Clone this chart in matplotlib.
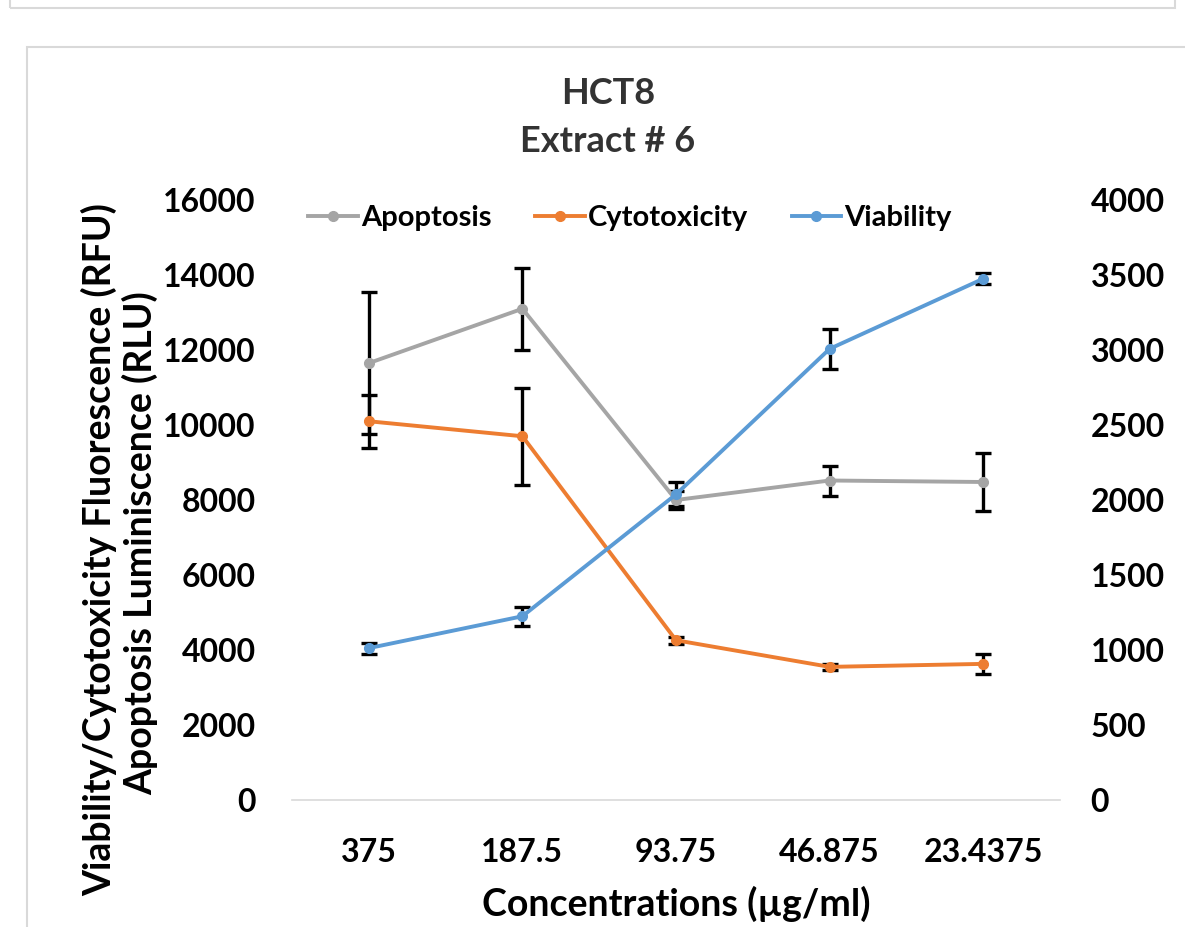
import matplotlib
matplotlib.use("Agg")
import matplotlib.pyplot as plt
from matplotlib.patches import Rectangle

plt.rcParams['font.family'] = ['Lato', 'DejaVu Sans']
plt.rcParams['font.weight'] = 'bold'

# data
concentrations = ['375', '187.5', '93.75', '46.875', '23.4375']
apoptosis = [11650, 13100, 8000, 8520, 8480]
apoptosis_err = [1900, 1100, 250, 400, 770]
cytotoxicity = [10100, 9700, 4260, 3550, 3630]
cytotoxicity_err = [700, 1300, 100, 80, 270]
viability = [4050, 4900, 8150, 12030, 13900]
viability_err = [150, 250, 320, 530, 150]

series = [
    ('Apoptosis', apoptosis, apoptosis_err, '#A5A5A5'),
    ('Cytotoxicity', cytotoxicity, cytotoxicity_err, '#ED7D31'),
    ('Viability', viability, viability_err, '#5B9BD5'),
]

fig = plt.figure(figsize=(11.85, 9.27), dpi=100)

# outer panel frames
fig.patches.append(Rectangle((10 / 1185, 1 - 8 / 927), 1165 / 1185, 0.05,
                             transform=fig.transFigure, fill=False,
                             edgecolor='#D9D9D9', linewidth=1.5))
fig.patches.append(Rectangle((27 / 1185, -0.05), 1.0, 1 - 47 / 927 + 0.05,
                             transform=fig.transFigure, fill=False,
                             edgecolor='#D9D9D9', linewidth=1.5))

ax = fig.add_axes([292 / 1185, 1 - 800 / 927, 768 / 1185, 600 / 927])
x = list(range(len(concentrations)))

for name, vals, errs, color in series:
    ax.errorbar(x, vals, yerr=errs, fmt='none', ecolor='black',
                elinewidth=2.4, capsize=5.5, capthick=2.4, zorder=3)
    ax.plot(x, vals, color=color, linewidth=2.8, marker='o', markersize=7,
            label=name, zorder=4)

ax.set_xlim(-0.5, len(concentrations) - 0.5)
ax.set_ylim(0, 16000)
ax.set_yticks(range(0, 16001, 2000))
ax.set_xticks(x)
ax.set_xticklabels(concentrations)
ax.tick_params(axis='y', length=0, labelsize=23, pad=26)
ax.tick_params(axis='x', length=0, labelsize=23, pad=27)
for side in ['top', 'right', 'left']:
    ax.spines[side].set_visible(False)
ax.spines['bottom'].set_color('#D9D9D9')
ax.spines['bottom'].set_linewidth(1.2)

ax2 = ax.twinx()
ax2.set_ylim(0, 4000)
ax2.set_yticks(range(0, 4001, 500))
ax2.tick_params(axis='y', length=0, labelsize=23, pad=22)
for side in ['top', 'right', 'left', 'bottom']:
    ax2.spines[side].set_visible(False)

ax.set_xlabel('Concentrations (µg/ml)', fontsize=27, fontweight='bold', labelpad=14)

fig.text(608 / 1185, 1 - 93 / 927, 'HCT8', ha='center', va='center',
         fontsize=26, fontweight='bold', color='#333333')
fig.text(608 / 1185, 1 - 141 / 927, 'Extract # 6', ha='center', va='center',
         fontsize=26, fontweight='bold', color='#333333')

fig.text(99 / 1185, 1 - 550 / 927, 'Viability/Cytotoxicity Fluorescence (RFU)',
         rotation=90, ha='center', va='center', fontsize=27, fontweight='bold')
fig.text(140 / 1185, 1 - 543 / 927, 'Apoptosis Luminiscence (RLU)',
         rotation=90, ha='center', va='center', fontsize=27, fontweight='bold')

ax.legend(loc='upper center', bbox_to_anchor=(0.44, 1.035), ncol=3, frameon=False,
          handlelength=1.7, handletextpad=0.1, columnspacing=1.5,
          prop={'weight': 'bold', 'size': 21})

fig.savefig('out.png', dpi=100)
